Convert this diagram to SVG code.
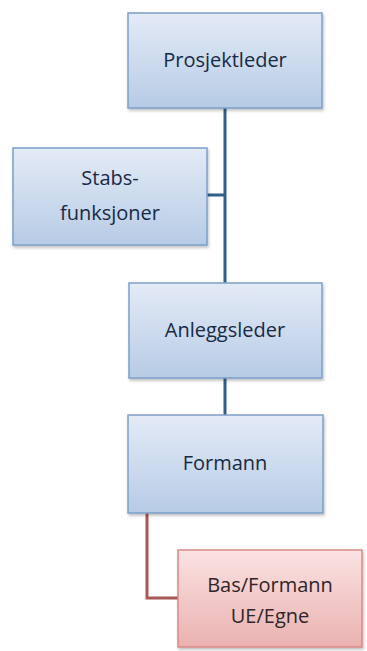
<svg xmlns="http://www.w3.org/2000/svg" width="367" height="651" viewBox="0 0 367 651">
  <defs>
    <linearGradient id="blueFill" x1="0" y1="0" x2="0" y2="1">
      <stop offset="0" stop-color="#e3ebf6"/>
      <stop offset="1" stop-color="#b7cbe6"/>
    </linearGradient>
    <linearGradient id="redFill" x1="0" y1="0" x2="0" y2="1">
      <stop offset="0" stop-color="#fbe3e3"/>
      <stop offset="1" stop-color="#eab1b0"/>
    </linearGradient>
    <filter id="shadow" x="-10%" y="-10%" width="125%" height="130%">
      <feDropShadow dx="1" dy="2" stdDeviation="1.5" flood-color="#000" flood-opacity="0.25"/>
    </filter>
  </defs>
  <style>
    .box { fill: url(#blueFill); stroke: #7d9fc9; stroke-width: 1.5; filter: url(#shadow); }
    .box-red { fill: url(#redFill); stroke: #d98a88; stroke-width: 1.5; filter: url(#shadow); }
    .label { font-family: "Open Sans", "Liberation Sans", sans-serif; font-size: 20px; fill: #172a45; text-anchor: middle; }
    .label-red { font-family: "Open Sans", "Liberation Sans", sans-serif; font-size: 20px; fill: #2e2626; text-anchor: middle; }
    .conn { fill: none; stroke: #2f5f8c; stroke-width: 3; }
    .conn-red { fill: none; stroke: #a85656; stroke-width: 3; }
  </style>
  <rect width="367" height="651" fill="#ffffff"/>

  <g id="connectors">
    <line class="conn" x1="225" y1="108" x2="225" y2="283"/>
    <line class="conn" x1="207" y1="195" x2="225" y2="195"/>
    <line class="conn" x1="225" y1="378" x2="225" y2="415"/>
    <polyline class="conn-red" points="147,513 147,598 178,598"/>
  </g>

  <g id="prosjektleder">
    <rect class="box" x="128" y="13" width="194" height="95"/>
    <text class="label" x="225" y="67">Prosjektleder</text>
  </g>

  <g id="stabsfunksjoner">
    <rect class="box" x="13" y="148" width="194" height="97"/>
    <text class="label" x="110" y="185">Stabs-</text>
    <text class="label" x="110" y="220">funksjoner</text>
  </g>

  <g id="anleggsleder">
    <rect class="box" x="129" y="283" width="193" height="95"/>
    <text class="label" x="225" y="337">Anleggsleder</text>
  </g>

  <g id="formann">
    <rect class="box" x="128" y="415" width="195" height="98"/>
    <text class="label" x="225" y="470">Formann</text>
  </g>

  <g id="bas-formann">
    <rect class="box-red" x="178" y="550" width="184" height="97"/>
    <text class="label-red" x="270" y="592">Bas/Formann</text>
    <text class="label-red" x="270" y="623">UE/Egne</text>
  </g>
</svg>
